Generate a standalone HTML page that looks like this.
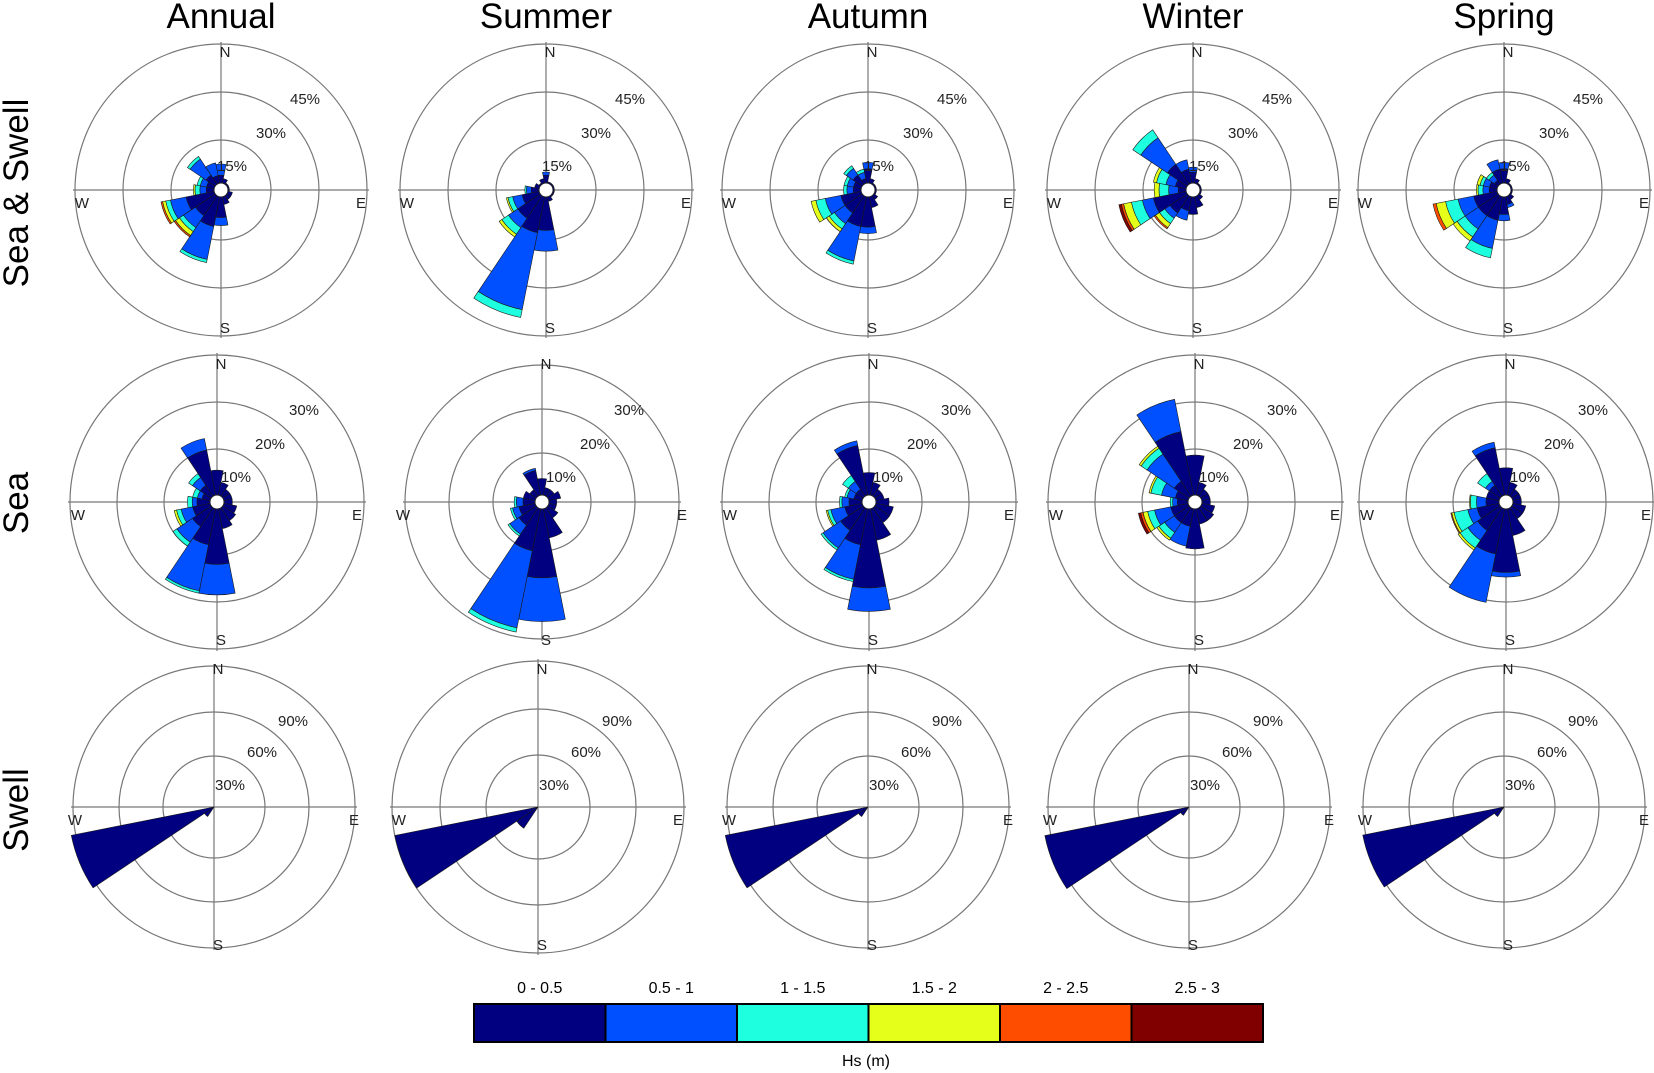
<!DOCTYPE html>
<html><head><meta charset="utf-8">
<style>
html,body{margin:0;padding:0;background:#fff;}
svg{display:block;}
text{font-family:"Liberation Sans",sans-serif;}
</style></head>
<body>
<svg id="chart" width="1654" height="1073" viewBox="0 0 1654 1073" xmlns="http://www.w3.org/2000/svg">
<rect x="0" y="0" width="1654" height="1073" fill="#fff"/>
</svg>
<script>
// ---- data ----
const seasons = ["Annual","Summer","Autumn","Winter","Spring"];
const rowLabels = ["Sea & Swell","Sea","Swell"];
const binLabels = ["0 - 0.5","0.5 - 1","1 - 1.5","1.5 - 2","2 - 2.5","2.5 - 3"];
const binColors = ["#000080","#0050ff","#1effe0","#e6ff1a","#ff4d00","#800000"];
const directions = [0,22.5,45,67.5,90,112.5,135,157.5,180,202.5,225,247.5,270,292.5,315,337.5];
const ringTicks = [[15,30,45],[10,20,30],[30,60,90]];
// per-direction frequency (%) for each Hs bin, directions N..NNW
const seaSwellAnnual = [[4,3.5],[3],[2],[2],[2],[3],[3],[4],[8,2.5],[11,10.5,1],[9,4.5,1.5,1.5,0.5],[10.5,5,1.5,1,0.5],[4,2,1.5,0.5],[4,2,1],[5,6,1],[4,4]];
const seaSwellSummer = [[4,1],[2],[2],[2],[2],[2],[2],[3],[12,6.5],[13,24.5,2.5],[10,3.5,2.5,1],[7,3,1.5,0.5],[4,1.5,0.5],[3],[2],[3]];
const seaSwellAutumn = [[6,2],[3],[2],[2],[2],[2],[3],[5],[11,2],[11,11,1],[8,4,2,1],[8,5,3,1.5],[4,2,1],[4,2,1],[5,2.5,1],[3,2,1]];
const seaSwellWinter = [[5,1.5],[3],[2],[2],[2],[2],[3],[5],[7],[6,3],[8,2,2,1.5,0.5],[12,3.5,3.5,2.5,0.7,0.8],[4,3,3,1.5],[5,3,3,1],[9,10,3],[6,3]];
const seaSwellSpring = [[6,2],[3],[2],[2],[2],[2],[3],[4,1],[7,2],[9,9,3],[9,5,3,1.5],[9,5,4,3,1],[4,2,1.5,0.5],[4,2,1,1],[3,2,1],[6,3]];
const seaAnnual = [[5.5],[3],[2],[2],[2],[3],[3.5],[4.5],[12,6.5],[8,10,0.5],[5,4,1],[4,2.5,1,0.5],[3,1,1],[2,1,1],[3,2,1],[10,2.5]];
const seaSummer = [[4],[2],[2],[3],[2],[2],[3],[7],[16,10],[10,18,1],[5,2.5,0.5],[4,1.5,0.5],[3,1.5,0.5],[3],[2],[6,0.5]];
const seaAutumn = [[5],[3],[2],[2],[3],[4],[4],[7],[17,5],[8,7.5,0.5],[6,4.5,0.5],[4,3,0.7,0.3],[3,1.5,0.5],[2,1.5,0.5],[2,2,1.5],[11,1]];
const seaWinter = [[8.7],[3],[2],[2],[2],[3],[3.5],[3.5],[8.7],[4,4.3],[4,2.5,1.5,0.5],[4,3.5,1.5,1,0.5,0.5],[2.5,1,0.5],[3,3,2.3,0.4],[4,7,1.5,0.5],[14,7]];
const seaSpring = [[6],[3],[2],[2],[2],[3],[3],[6],[13.7,1],[10,10.5],[6,2.5,2,0.5],[5,2,3,0.5,0.2],[3,2,1.3,0.2],[3],[3,1,2],[10.5,1.2]];
const swellAnnual = [[0],[0],[0],[0],[0],[0],[0],[0],[0],[0],[3],[93],[0],[0],[0],[0]];
const swellSummer = [[0],[0],[0],[0],[0],[0],[0],[0],[0],[0],[12],[90],[0],[0],[0],[0]];
const swellAutumn = [[0],[0],[0],[0],[0],[0],[0],[0],[0],[0],[3],[93],[0],[0],[0],[0]];
const swellWinter = [[0],[0],[0],[0],[0],[0],[0],[0],[0],[0],[2],[94],[0],[0],[0],[0]];
const swellSpring = [[0],[0],[0],[0],[0],[0],[0],[0],[0],[0],[3],[92],[0],[0],[0],[0]];
const panelData = [
  [seaSwellAnnual,seaSwellSummer,seaSwellAutumn,seaSwellWinter,seaSwellSpring],
  [seaAnnual,seaSummer,seaAutumn,seaWinter,seaSpring],
  [swellAnnual,swellSummer,swellAutumn,swellWinter,swellSpring]
];

// ---- layout ----
const NS="http://www.w3.org/2000/svg";
const svg=document.getElementById('chart');
const colX=[[221,546,868,1193,1504],[217,542,869,1195,1506],[214,538,868,1189,1504]];
const rowY=[190,502,807];
const rowR0=[2,6,7];
const rowRingR=[[50,98,146],[53,100,147],[51,95,141]];
const labelOff=[[[11,-24],[50,-57],[84,-91]],[[19,-25],[53,-58],[87,-92]],[[16,-22],[48,-55],[79,-86]]];
function mk(tag,attrs,parent){const e=document.createElementNS(NS,tag);for(const k in attrs)e.setAttribute(k,attrs[k]);(parent||svg).appendChild(e);return e;}
function radiusFn(row,col){
  let rings=rowRingR[row].slice();
  if(col===1&&row===1) rings=[49,93,137];
  if(col===1&&row===2) rings=[52,98,146];
  const maxV=ringTicks[row][2], r0=rowR0[row];
  const k=(rings[2]-r0)/maxV;
  return {rings, r:v=>r0+k*v, R:rings[2]};
}
function pt(cx,cy,r,bearing){const a=(bearing-90)*Math.PI/180;return [cx+r*Math.cos(a),cy+r*Math.sin(a)];}
function sector(cx,cy,r1,r2,b1,b2){
  const p1=pt(cx,cy,r2,b1),p2=pt(cx,cy,r2,b2),p3=pt(cx,cy,r1,b2),p4=pt(cx,cy,r1,b1);
  if(r1<=0.01) return `M${cx},${cy}L${p1[0]},${p1[1]}A${r2},${r2} 0 0 1 ${p2[0]},${p2[1]}Z`;
  return `M${p4[0]},${p4[1]}L${p1[0]},${p1[1]}A${r2},${r2} 0 0 1 ${p2[0]},${p2[1]}L${p3[0]},${p3[1]}A${r1},${r1} 0 0 0 ${p4[0]},${p4[1]}Z`;
}

// titles
seasons.forEach((s,i)=>{
  const t=mk('text',{x:colX[0][i],y:28,'text-anchor':'middle','font-size':35,fill:'#000'});
  t.textContent=s;
  
  
});
rowLabels.forEach((s,i)=>{
  const y=[193,503,810][i];
  const t=mk('text',{x:28,y:y,'text-anchor':'middle','font-size':35,fill:'#000',transform:`rotate(-90 28 ${y})`});
  t.textContent=s;
  
  
});

// panels
for(let row=0;row<3;row++){
  for(let col=0;col<5;col++){
    const cx=colX[row][col], cy=rowY[row];
    const {rings,r,R}=radiusFn(row,col);
    const g=mk('g',{});
    
    
    rings.forEach(rr=>{
      const c=mk('circle',{cx:cx,cy:cy,r:rr,fill:'none',stroke:'#777','stroke-width':1.2},g);
      
      
    });
    const h=mk('line',{x1:cx-R-2,y1:cy,x2:cx+R+2,y2:cy,stroke:'#777','stroke-width':1.2},g);
    
    
    const v=mk('line',{x1:cx,y1:cy-R-2,x2:cx,y2:cy+R+2,stroke:'#777','stroke-width':1.2},g);
    
    
    // bars
    const data=panelData[row][col];
    directions.forEach((b,di)=>{
      let cum=0;
      data[di].forEach((val,bi)=>{
        if(val<=0) return;
        const inner=cum===0?0:r(cum);
        cum+=val;
        const p=mk('path',{d:sector(cx,cy,inner,r(cum),b-11.25,b+11.25),fill:binColors[bi],stroke:'#1a1a1a','stroke-width':0.6},g);
        
        
      });
    });
    if(row<2){
      const d=mk('circle',{cx:cx,cy:cy,r:7,fill:'#fff',stroke:'#222','stroke-width':1},g);
      
      
    }
    // compass labels
    [['N',4,-133],['S',4,143],['W',-139,18],['E',140,18]].forEach(([txt,dx,dy])=>{
      const t=mk('text',{x:cx+dx,y:cy+dy,'font-size':15,fill:'#222','text-anchor':'middle'},g);
      t.textContent=txt;
      
      
    });
    ringTicks[row].forEach((tk,ti)=>{
      const o=labelOff[row][ti];
      const t=mk('text',{x:cx+o[0],y:cy+o[1]+5,'font-size':15,fill:'#222','text-anchor':'middle'},g);
      t.textContent=tk+'%';
      
      
    });
  }
}

// legend
const lg=mk('g',{});


const lx0=474,lx1=1263,ly=1004,lh=38,cw=(lx1-lx0)/binLabels.length;
binLabels.forEach((s,i)=>{
  const rc=mk('rect',{x:lx0+i*cw,y:ly,width:cw,height:lh,fill:binColors[i],stroke:'#000','stroke-width':2},lg);
  
  
  const t=mk('text',{x:lx0+(i+0.5)*cw,y:993,'font-size':16,fill:'#000','text-anchor':'middle'},lg);
  t.textContent=s;
  
  
});
const ht=mk('text',{x:866,y:1066,'font-size':16,fill:'#000','text-anchor':'middle'},lg);
ht.textContent='Hs (m)';


</script>
</body></html>
